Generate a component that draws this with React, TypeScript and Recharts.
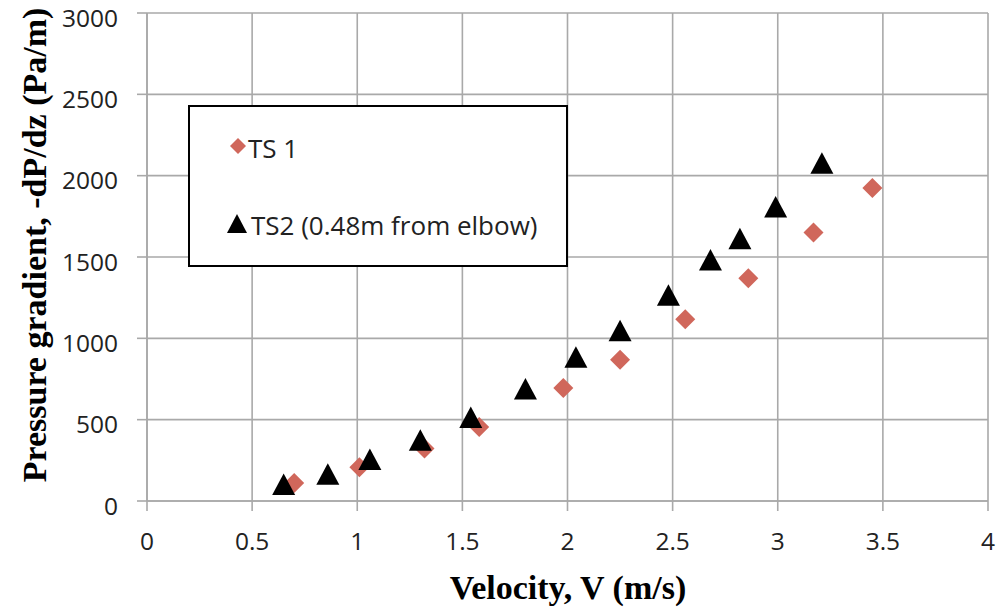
import React from 'react';
import { ScatterChart, Scatter, XAxis, YAxis, CartesianGrid, Legend, Label } from 'recharts';

const ts1X = [0.70, 1.01, 1.32, 1.58, 1.98, 2.25, 2.56, 2.86, 3.17, 3.45];
const ts1Y = [110, 208, 322, 455, 695, 868, 1118, 1369, 1650, 1924];
const ts2X = [0.65, 0.86, 1.06, 1.30, 1.54, 1.80, 2.04, 2.25, 2.48, 2.68, 2.82, 2.99, 3.21];
const ts2Y = [101, 164, 255, 373, 513, 688, 883, 1046, 1265, 1481, 1612, 1807, 2077];
const xTicks = [0, 0.5, 1, 1.5, 2, 2.5, 3, 3.5, 4];
const yTicks = [0, 500, 1000, 1500, 2000, 2500, 3000];
const seriesNames = ['TS 1', 'TS2 (0.48m from elbow)'];

const ts1 = ts1X.map((x, i) => ({ x, y: ts1Y[i] }));
const ts2 = ts2X.map((x, i) => ({ x, y: ts2Y[i] }));

const RED = '#d0675b';
const GRID = '#a9a9a9';
const TICK_FONT = { fontFamily: '"Open Sans", sans-serif', fontSize: 24.5, fill: '#222' };

const Diamond = (props: any) => {
  const { cx, cy } = props;
  const r = 10;
  return <polygon points={`${cx},${cy - r} ${cx + r},${cy} ${cx},${cy + r} ${cx - r},${cy}`} fill={RED} />;
};

const Triangle = (props: any) => {
  const { cx, cy } = props;
  return (
    <polygon
      points={`${cx},${cy - 11} ${cx + 11.5},${cy + 10.5} ${cx - 11.5},${cy + 10.5}`}
      fill="#000"
    />
  );
};

const LegendBox = () => (
  <div
    style={{
      width: 380,
      height: 162,
      boxSizing: 'border-box',
      border: '2px solid #000',
      background: '#fff',
      position: 'relative',
    }}
  >
    <svg width={380} height={162} style={{ position: 'absolute', left: -2, top: -2 }}>
      <polygon points="50,33 58,41 50,49 42,41" fill={RED} />
      <polygon points="49,109 59,128 39,128" fill="#000" />
      <text x={60} y={43} dominantBaseline="central" style={{ fontFamily: '"Open Sans", sans-serif', fontSize: 26 }} fill="#222">
        {seriesNames[0]}
      </text>
      <text x={63} y={120} dominantBaseline="central" style={{ fontFamily: '"Open Sans", sans-serif', fontSize: 26 }} fill="#222">
        {seriesNames[1]}
      </text>
    </svg>
  </div>
);

export default function App() {
  return (
    <div style={{ position: 'absolute', left: 0, top: 0, width: 998, height: 610, background: '#fff' }}>
      <ScatterChart width={998} height={610} margin={{ top: 13, right: 10, left: 0, bottom: 0 }}>
        <CartesianGrid stroke={GRID} strokeWidth={1.6} />
        <XAxis
          type="number"
          dataKey="x"
          domain={[0, 4]}
          ticks={xTicks}
          height={109}
          stroke={GRID}
          strokeWidth={1.6}
          tickSize={10}
          tickMargin={22}
          tick={TICK_FONT}
          interval={0}
        >
          <Label
            content={() => (
              <text
                x={568}
                y={599}
                textAnchor="middle"
                style={{ fontFamily: '"Liberation Serif", "Times New Roman", serif', fontWeight: 'bold', fontSize: 34 }}
                fill="#000"
              >
                Velocity, V (m/s)
              </text>
            )}
          />
        </XAxis>
        <YAxis
          type="number"
          dataKey="y"
          domain={[0, 3000]}
          ticks={yTicks}
          width={147}
          stroke={GRID}
          strokeWidth={1.6}
          tickSize={10}
          tickMargin={19}
          tick={{ ...TICK_FONT, dy: 5 }}
          interval={0}
        >
          <Label
            content={() => (
              <text
                x={46}
                y={245}
                textAnchor="middle"
                transform="rotate(-90 46 245)"
                style={{ fontFamily: '"Liberation Serif", "Times New Roman", serif', fontWeight: 'bold', fontSize: 34 }}
                fill="#000"
              >
                Pressure gradient, -dP/dz (Pa/m)
              </text>
            )}
          />
        </YAxis>
        <Legend
          layout="vertical"
          align="center"
          verticalAlign="middle"
          content={() => <LegendBox />}
          wrapperStyle={{ position: 'absolute', left: 188, top: 105, width: 380, height: 162 }}
        />
        <Scatter name={seriesNames[0]} data={ts1} shape={<Diamond />} isAnimationActive={false} />
        <Scatter name={seriesNames[1]} data={ts2} shape={<Triangle />} isAnimationActive={false} />
      </ScatterChart>
    </div>
  );
}
